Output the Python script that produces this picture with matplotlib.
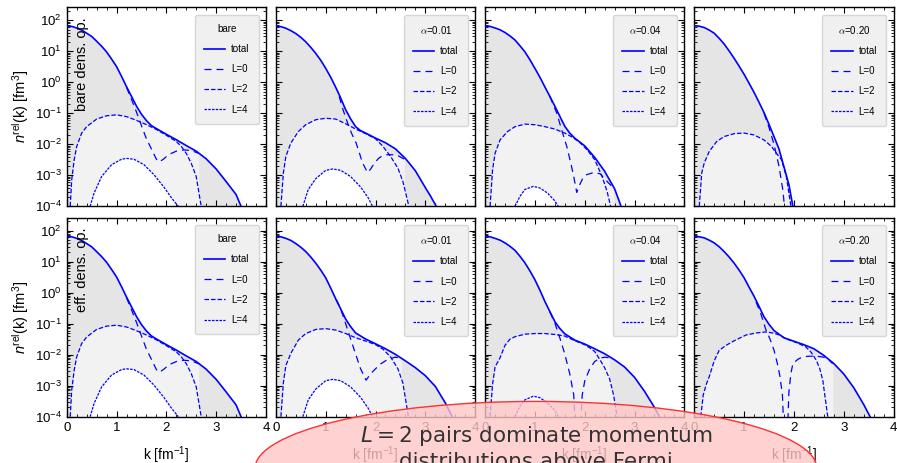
import numpy as np
import matplotlib
matplotlib.use("Agg")
import matplotlib.pyplot as plt
from matplotlib.lines import Line2D
from matplotlib.patches import Ellipse
from matplotlib.ticker import MultipleLocator
from matplotlib.font_manager import FontProperties

plt.rcParams['font.family'] = 'Liberation Sans'
plt.rcParams['mathtext.fontset'] = 'custom'
plt.rcParams['mathtext.rm'] = 'Liberation Sans'
plt.rcParams['mathtext.it'] = 'Liberation Sans:italic'
plt.rcParams['mathtext.bf'] = 'Liberation Sans:bold'

# --- bare operator (same in both rows) ---
bare_tot_k = [0, .1, .2, .3, .4, .5, .6, .7, .8, .9, 1.0, 1.1, 1.2, 1.3, 1.4, 1.5, 1.6, 1.7, 1.8, 2.0, 2.2,
              2.4, 2.6, 2.8, 3.0, 3.2, 3.4, 3.5]
bare_tot_n = [65, 63, 56, 48, 38, 30, 21, 14.5, 9.5, 5.6, 3.2, 1.55, 0.72, 0.35, 0.17, 0.093, 0.058, 0.04,
              0.032, 0.021, 0.014, 0.0091, 0.006, 0.0034, 0.0016, 6.3e-4, 2.4e-4, 1e-4]
bare_l0_k = [1.2, 1.3, 1.4, 1.5, 1.6, 1.7, 1.8, 1.86, 1.95, 2.05, 2.2, 2.35, 2.5, 2.65]
bare_l0_n = [0.69, 0.28, 0.11, 0.04, 0.015, 0.0071, 0.0033, 0.0027, 0.0034, 0.0047, 0.006, 0.0066, 0.0063, 0.0051]
bare_l2_k = [0.07, 0.1, 0.15, 0.2, 0.3, 0.4, 0.6, 0.8, 1.0, 1.2, 1.4, 1.6, 1.8, 2.0, 2.2, 2.3, 2.4, 2.5, 2.6, 2.7]
bare_l2_n = [1e-4, 7.2e-4, 3.2e-3, 8.5e-3, 0.023, 0.037, 0.065, 0.083, 0.089, 0.078, 0.059, 0.043, 0.030,
             0.0195, 0.0123, 0.0085, 0.0051, 0.00245, 9.1e-4, 1e-4]
bare_l4_k = [0.47, 0.55, 0.7, 0.9, 1.1, 1.2, 1.35, 1.55, 1.75, 1.95, 2.1, 2.24]
bare_l4_n = [1e-4, 2.7e-4, 9.1e-4, 2.2e-3, 3.3e-3, 3.5e-3, 3.3e-3, 2.2e-3, 1.05e-3, 4.2e-4, 1.9e-4, 1e-4]

# --- alpha = 0.01, bare density operator ---
a01_tot_k = [0, .1, .2, .3, .4, .5, .6, .7, .8, .9, 1.0, 1.1, 1.2, 1.3, 1.4, 1.5, 1.6, 1.7, 1.8, 2.0, 2.2,
             2.4, 2.6, 2.8, 3.0, 3.1, 3.22]
a01_tot_n = [65, 62, 55, 46, 37, 28, 20, 13.3, 8.5, 5.1, 2.8, 1.45, 0.69, 0.31, 0.13, 0.066, 0.037, 0.0275,
             0.023, 0.0158, 0.0112, 0.0071, 0.0035, 0.0014, 4.0e-4, 2.2e-4, 1e-4]
a01_l0_k = [1.27, 1.35, 1.44, 1.52, 1.61, 1.68, 1.74, 1.84, 1.9, 1.98, 2.06, 2.14, 2.24, 2.35, 2.45, 2.58]
a01_l0_n = [0.35, 0.126, 0.048, 0.0224, 0.011, 0.005, 0.0025, 0.00123, 0.00158, 0.0025, 0.0035, 0.0043,
            0.0046, 0.0046, 0.0043, 0.0033]
a01_l2_k = [0.1, 0.15, 0.2, 0.3, 0.45, 0.6, 0.8, 1.0, 1.2, 1.4, 1.6, 1.8, 2.0, 2.15, 2.3, 2.45, 2.55, 2.67]
a01_l2_n = [1e-4, 1.2e-3, 4.1e-3, 0.011, 0.0257, 0.043, 0.062, 0.069, 0.065, 0.046, 0.031, 0.022, 0.0151,
            0.0085, 0.0041, 0.0017, 6.3e-4, 1e-4]
a01_l4_k = [0.54, 0.65, 0.8, 1.0, 1.14, 1.3, 1.5, 1.7, 1.85, 1.94]
a01_l4_n = [1e-4, 3.5e-4, 7.8e-4, 1.45e-3, 1.6e-3, 1.45e-3, 9.1e-4, 4.2e-4, 1.9e-4, 1e-4]

# --- alpha = 0.04, bare density operator ---
a04_tot_k = [0, .1, .2, .3, .4, .5, .6, .7, .8, .9, 1.0, 1.1, 1.2, 1.3, 1.4, 1.5, 1.6, 1.7, 1.8, 2.0, 2.2,
             2.4, 2.6, 2.73]
a04_tot_n = [65, 63, 56, 49, 40, 31, 23, 15, 9.5, 5.3, 2.8, 1.45, 0.71, 0.35, 0.17, 0.08, 0.038, 0.0229,
             0.0158, 0.0089, 0.0038, 0.00135, 3.7e-4, 1e-4]
a04_l0_k = [1.3, 1.44, 1.54, 1.64, 1.72, 1.78, 1.84, 1.9, 1.96, 2.04, 2.18, 2.31, 2.45, 2.58]
a04_l0_n = [0.35, 0.1, 0.028, 0.0085, 0.0025, 9.1e-4, 2.8e-4, 5e-4, 7.9e-4, 1.05e-3, 1.23e-3, 1.12e-3, 6.3e-4, 3.9e-4]
a04_l2_k = [0.1, 0.15, 0.2, 0.3, 0.45, 0.6, 0.8, 1.0, 1.2, 1.4, 1.6, 1.75, 1.9, 2.05, 2.2, 2.35, 2.45, 2.52]
a04_l2_n = [1e-4, 1.5e-3, 5.1e-3, 0.0138, 0.0257, 0.037, 0.0447, 0.0427, 0.037, 0.031, 0.0229, 0.017, 0.0115,
            0.0066, 0.0032, 9.1e-4, 3.0e-4, 1e-4]
a04_l4_k = [0.6, 0.7, 0.8, 0.97, 1.1, 1.25, 1.4, 1.47]
a04_l4_n = [1e-4, 2.1e-4, 3.5e-4, 4.4e-4, 3.9e-4, 2.7e-4, 1.5e-4, 1e-4]

# --- alpha = 0.20, bare density operator ---
a20_tot_k = [0, .1, .2, .3, .4, .5, .6, .7, .8, .9, 1.0, 1.1, 1.2, 1.3, 1.4, 1.5, 1.6, 1.7, 1.8, 1.9, 1.98]
a20_tot_n = [66, 64, 58, 48, 38, 26, 17, 10.2, 5.9, 3.3, 1.8, 0.93, 0.47, 0.225, 0.105, 0.044, 0.0178,
             0.0071, 0.0019, 5e-4, 1e-4]
a20_l0_k = [1.4, 1.5, 1.6, 1.7, 1.78, 1.81]
a20_l0_n = [0.1, 0.035, 0.01, 0.002, 3.2e-4, 1e-4]
a20_l2_k = [0.1, 0.15, 0.2, 0.3, 0.45, 0.6, 0.8, 1.0, 1.2, 1.4, 1.55, 1.65, 1.75, 1.85, 1.94]
a20_l2_n = [1e-4, 1.2e-3, 2.5e-3, 5.9e-3, 0.0123, 0.0178, 0.022, 0.023, 0.02, 0.0138, 0.0085, 0.0051,
            0.0032, 9e-4, 1e-4]

# --- alpha = 0.01, effective density operator ---
e01_tot_k = [0, .1, .2, .3, .4, .5, .6, .7, .8, .9, 1.0, 1.1, 1.2, 1.3, 1.4, 1.5, 1.6, 1.8, 2.0, 2.2, 2.4,
             2.6, 2.8, 3.0, 3.2, 3.4, 3.54]
e01_tot_n = [65, 63, 56, 48, 38, 29, 21, 14, 8.9, 5.3, 3.0, 1.4, 0.63, 0.3, 0.14, 0.08, 0.05, 0.032, 0.0224,
             0.0155, 0.0102, 0.0063, 0.0038, 0.0021, 9.5e-4, 2.8e-4, 1e-4]
e01_l0_k = [1.21, 1.3, 1.4, 1.5, 1.6, 1.7, 1.81, 1.9, 2.0, 2.1, 2.25, 2.4, 2.52]
e01_l0_n = [0.6, 0.3, 0.1, 0.032, 0.0105, 0.0035, 0.0015, 0.0024, 0.0035, 0.005, 0.0071, 0.0083, 0.0074]
e01_l2_k = [0.1, 0.15, 0.2, 0.3, 0.45, 0.6, 0.8, 1.0, 1.2, 1.4, 1.6, 1.8, 2.0, 2.15, 2.3, 2.45, 2.55, 2.66]
e01_l2_n = [1e-4, 1.26e-3, 4.5e-3, 0.011, 0.0295, 0.048, 0.065, 0.069, 0.062, 0.048, 0.035, 0.0275, 0.021,
            0.015, 0.0085, 0.0035, 0.0012, 1e-4]

# --- alpha = 0.04, effective density operator ---
e04_tot_k = [0, .1, .2, .3, .4, .5, .6, .7, .8, .9, 1.0, 1.1, 1.2, 1.3, 1.4, 1.5, 1.6, 1.8, 2.0, 2.2, 2.4,
             2.6, 2.8, 3.0, 3.2, 3.4, 3.5]
e04_tot_n = [65, 63, 56, 49, 40, 31, 23, 14.8, 9.1, 5.0, 2.6, 1.2, 0.52, 0.245, 0.117, 0.07, 0.047, 0.0295,
             0.022, 0.0155, 0.0107, 0.0068, 0.004, 0.00186, 6.6e-4, 2.0e-4, 1e-4]
e04_l0_k = [1.3, 1.4, 1.5, 1.6, 1.7, 1.78, 1.83, 1.9, 1.95, 2.0, 2.1, 2.2, 2.3, 2.4, 2.5]
e04_l0_n = [0.24, 0.105, 0.035, 0.0105, 0.0024, 5e-4, 1e-5, 1e-5, 5e-4, 0.0014, 0.0035, 0.006, 0.0076,
            0.0083, 0.0079]
e04_l2_k = [0.1, 0.15, 0.2, 0.3, 0.4, 0.5, 0.6, 0.8, 1.0, 1.2, 1.4, 1.6, 1.8, 2.0, 2.1, 2.2, 2.3, 2.4, 2.5,
            2.58, 2.65]
e04_l2_n = [1e-4, 1.1e-3, 4e-3, 7.9e-3, 0.02, 0.0316, 0.038, 0.0457, 0.0479, 0.0479, 0.0447, 0.0398, 0.0282,
            0.0209, 0.0166, 0.0126, 0.0071, 0.0038, 0.00166, 5e-4, 1e-4]
e04_l4_k = [0.6, 0.7, 0.8, 0.97, 1.1, 1.25, 1.4, 1.47]
e04_l4_n = [1e-4, 2.2e-4, 3.5e-4, 4.6e-4, 4.1e-4, 2.8e-4, 1.6e-4, 1e-4]

# --- alpha = 0.20, effective density operator ---
e20_tot_k = [0, .1, .2, .3, .4, .5, .6, .7, .8, .9, 1.0, 1.1, 1.2, 1.3, 1.4, 1.5, 1.6, 1.8, 2.0, 2.2, 2.4,
             2.6, 2.8, 3.0, 3.2, 3.4, 3.53]
e20_tot_n = [65, 63, 58, 49, 40, 30, 21, 14, 8.9, 5.3, 3.0, 1.5, 0.76, 0.36, 0.166, 0.095, 0.06, 0.035,
             0.027, 0.021, 0.0155, 0.0095, 0.0052, 0.0024, 8.7e-4, 2.5e-4, 1e-4]
e20_l0_k = [1.24, 1.34, 1.44, 1.52, 1.6, 1.67, 1.72, 1.77, 1.81, 1.86, 1.9, 1.94, 1.98, 2.08, 2.18, 2.3,
            2.45, 2.6, 2.7, 2.78]
e20_l0_n = [0.5, 0.2, 0.062, 0.032, 0.014, 0.005, 0.002, 5e-4, 1e-5, 1e-5, 6.3e-4, 2.5e-3, 5.1e-3, 7.1e-3,
            8.5e-3, 8.9e-3, 8.9e-3, 8.3e-3, 6.8e-3, 5.1e-3]
e20_l2_k = [0.13, 0.18, 0.24, 0.3, 0.4, 0.5, 0.64, 0.8, 1.04, 1.24, 1.44, 1.6, 1.71, 1.85, 2.04, 2.24, 2.35,
            2.45, 2.52, 2.58, 2.68]
e20_l2_n = [1e-4, 5e-4, 1.1e-3, 1.95e-3, 6.3e-3, 0.0138, 0.02, 0.028, 0.043, 0.05, 0.054, 0.049, 0.043,
            0.032, 0.025, 0.0178, 0.0117, 0.0066, 0.0035, 0.0015, 1e-4]

titles = ['bare', r'$\alpha$=0.01', r'$\alpha$=0.04', r'$\alpha$=0.20']
row_labels = ['bare dens. op.', 'eff. dens. op.']
labels = ['total', 'L=0', 'L=2', 'L=4']

panels = [
    [(bare_tot_k, bare_tot_n, bare_l0_k, bare_l0_n, bare_l2_k, bare_l2_n, bare_l4_k, bare_l4_n),
     (a01_tot_k, a01_tot_n, a01_l0_k, a01_l0_n, a01_l2_k, a01_l2_n, a01_l4_k, a01_l4_n),
     (a04_tot_k, a04_tot_n, a04_l0_k, a04_l0_n, a04_l2_k, a04_l2_n, a04_l4_k, a04_l4_n),
     (a20_tot_k, a20_tot_n, a20_l0_k, a20_l0_n, a20_l2_k, a20_l2_n, [], [])],
    [(bare_tot_k, bare_tot_n, bare_l0_k, bare_l0_n, bare_l2_k, bare_l2_n, bare_l4_k, bare_l4_n),
     (e01_tot_k, e01_tot_n, e01_l0_k, e01_l0_n, e01_l2_k, e01_l2_n, a01_l4_k, a01_l4_n),
     (e04_tot_k, e04_tot_n, e04_l0_k, e04_l0_n, e04_l2_k, e04_l2_n, e04_l4_k, e04_l4_n),
     (e20_tot_k, e20_tot_n, e20_l0_k, e20_l0_n, e20_l2_k, e20_l2_n, [], [])],
]

blue = '#0000ff'
dark_fill = '#e5e5e5'
light_fill = '#f2f2f2'
styles = [dict(lw=1.2), dict(lw=0.9, dashes=(5.6, 4)), dict(lw=0.9, dashes=(3.6, 1.6)),
          dict(lw=0.9, dashes=(2, 1))]

fig, axes = plt.subplots(2, 4, figsize=(8.97, 4.63), dpi=100, sharex=True, sharey=True)
fig.subplots_adjust(left=0.0744, right=0.9961, top=0.9842, bottom=0.1, wspace=0.05, hspace=0.057)

for r in range(2):
    for c in range(4):
        ax = axes[r, c]
        tk, tn, k0, n0, k2, n2, k4, n4 = [np.array(a, dtype=float) for a in panels[r][c]]

        # shaded areas: total, L=2 and the high-k L=0 lobe, L=4 cut out
        ax.fill_between(tk, tn, 1e-6, color=dark_fill, lw=0, zorder=0)
        ax.fill_between(k2, n2, 1e-6, color=light_fill, lw=0, zorder=0.5)
        i = np.argmin(n0)
        ax.fill_between(k0[i:], n0[i:], 1e-6, color=light_fill, lw=0, zorder=0.5)
        if len(k4):
            ax.fill_between(k4, n4, 1e-6, color='white', lw=0, zorder=0.6)

        ax.plot(tk, tn, color=blue, zorder=4, **styles[0])
        ax.plot(k0, n0, color=blue, zorder=3, **styles[1])
        ax.plot(k2, n2, color=blue, zorder=3, **styles[2])
        if len(k4):
            ax.plot(k4, n4, color=blue, zorder=3, **styles[3])

        ax.set_yscale('log')
        ax.set_xlim(0, 4)
        ax.set_ylim(1e-4, 2.6e2)
        ax.xaxis.set_major_locator(MultipleLocator(1))
        ax.xaxis.set_minor_locator(MultipleLocator(0.2))
        ax.tick_params(which='both', direction='in', top=True, right=True, labelsize=9.5)
        ax.tick_params(which='major', length=4, width=0.8)
        ax.tick_params(which='minor', length=2, width=0.6)
        for sp in ax.spines.values():
            sp.set_linewidth(1.0)

        handles = [Line2D([], [], color=blue, **s) for s in styles]
        leg = ax.legend(handles, labels, title=titles[c], loc='upper right', fontsize=7,
                        title_fontproperties=FontProperties(size=7, math_fontfamily='cm'),
                        handlelength=2.2, handletextpad=0.6, labelspacing=1.05, borderpad=0.95,
                        borderaxespad=0.75, fancybox=True, framealpha=1)
        leg.get_frame().set_facecolor('#f0f0f0')
        leg.get_frame().set_edgecolor('#d6d6d6')
        leg.set_zorder(5)

        if c == 0:
            ax.set_ylabel(r'$n^{\rm rel}$(k) [fm$^3$]', fontsize=10.5, labelpad=3)
            ax.text(0.077, 0.95, row_labels[r], rotation=90, ha='center', va='top',
                    transform=ax.transAxes, fontsize=10.5, zorder=6)
        if r == 1:
            ax.set_xlabel(r'k [fm$^{-1}$]', fontsize=10, labelpad=8)

# callout bubble over the lower panels
fig.add_artist(Ellipse((0.5975, -0.012), 0.6265, 0.29, transform=fig.transFigure,
                       facecolor=(1, 0.78, 0.78, 0.8), edgecolor='#ff3030', lw=1.0, zorder=10))
fig.text(0.5975, 1 - 424 / 463, '$L = 2$ pairs dominate momentum\ndistributions above Fermi',
         ha='center', va='top', fontsize=15.5, color='#333333', family='DejaVu Sans',
         math_fontfamily='dejavusans', linespacing=1.22, zorder=11)

fig.savefig('out.png', dpi=100)
